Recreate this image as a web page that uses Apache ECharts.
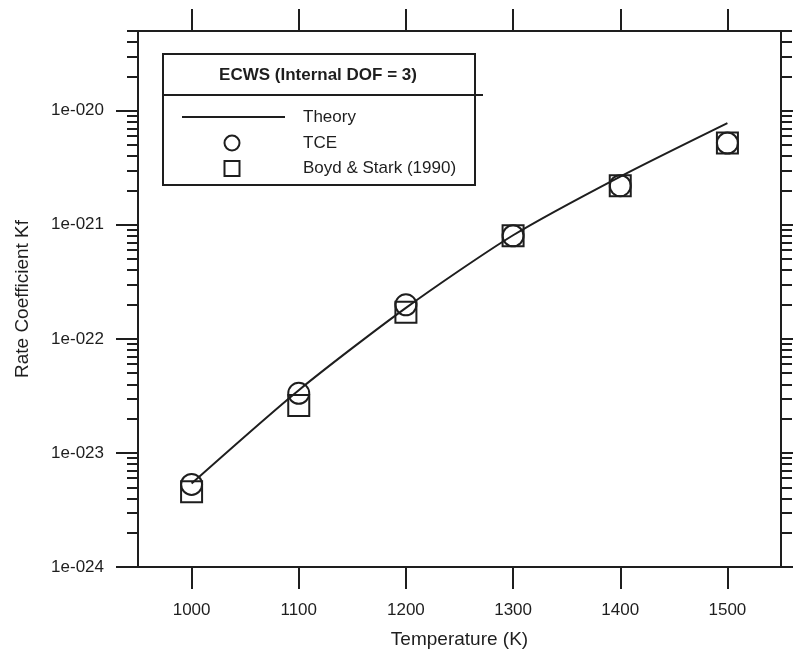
<!DOCTYPE html>
<html>
<head>
<meta charset="utf-8">
<script src="https://cdn.jsdelivr.net/npm/echarts@6/dist/echarts.min.js"></script>
<style>
html,body{margin:0;padding:0;background:#fff;}
#chart{width:793px;height:649px;}
</style>
</head>
<body>
<div id="chart"></div>
<script>
// ---- data ----
const temperatures = [1000, 1100, 1200, 1300, 1400, 1500];
const theoryValues = [5.4e-24, 3.55e-23, 1.87e-22, 8.1e-22, 2.65e-21, 7.8e-21];
const tceValues    = [5.3e-24, 3.33e-23, 1.99e-22, 8.0e-22, 2.2e-21, 5.2e-21];
const boydValues   = [4.57e-24, 2.6e-23, 1.71e-22, 8.0e-22, 2.2e-21, 5.2e-21];
const xTicks = [1000, 1100, 1200, 1300, 1400, 1500];
const yMajorTicks = [1e-24, 1e-23, 1e-22, 1e-21, 1e-20];
const yMinorTicks = [];
[-24, -23, -22, -21, -20].forEach(function (e) {
  for (let m = 2; m <= 9; m++) {
    const v = m * Math.pow(10, e);
    if (v <= 5e-20 * 1.0001) yMinorTicks.push(v);
  }
});
const legendTitle = 'ECWS (Internal DOF = 3)';
const seriesNames = ['Theory', 'TCE', 'Boyd & Stark (1990)'];

const X_MIN = 950, X_MAX = 1550, Y_MIN = 1e-24, Y_MAX = 5e-20;
const INK = '#1e1e1e';
const FONT = '"Liberation Sans", Arial, Helvetica, sans-serif';

function fmtExp(v) {
  const e = Math.round(Math.log10(v));
  const s = String(Math.abs(e)).padStart(3, '0');
  return '1e' + (e < 0 ? '-' : '+') + s;
}

function pair(xs, ys) { return xs.map(function (x, i) { return [x, ys[i]]; }); }

const baseX = { type: 'value', min: X_MIN, max: X_MAX, splitLine: { show: false } };
const baseY = { type: 'log', logBase: 10, min: Y_MIN, max: Y_MAX, splitLine: { show: false } };

function yAxisDef(pos, ticks, len, showLine, showLabel, name) {
  return Object.assign({}, baseY, {
    position: pos,
    name: name || '',
    nameLocation: 'middle',
    nameGap: 106,
    nameTextStyle: { fontFamily: FONT, fontSize: 19, color: INK },
    axisLine: { show: showLine, onZero: false, lineStyle: { color: INK, width: 2 } },
    axisTick: { show: true, inside: false, length: len, customValues: ticks, lineStyle: { color: INK, width: 2 } },
    axisLabel: { show: showLabel, customValues: ticks, margin: 34, fontFamily: FONT, fontSize: 17, color: INK,
                 formatter: function (v) { return fmtExp(v); } },
    minorTick: { show: false }
  });
}

function xAxisDef(pos, showLabel, name) {
  return Object.assign({}, baseX, {
    position: pos,
    name: name || '',
    nameLocation: 'middle',
    nameGap: 63,
    nameTextStyle: { fontFamily: FONT, fontSize: 19, color: INK },
    axisLine: { show: true, onZero: false, lineStyle: { color: INK, width: 2 } },
    axisTick: { show: true, inside: false, length: 22, customValues: xTicks, lineStyle: { color: INK, width: 2 } },
    axisLabel: { show: showLabel, customValues: xTicks, margin: 35, fontFamily: FONT, fontSize: 17, color: INK,
                 formatter: function (v) { return String(v); } }
  });
}

const chart = echarts.init(document.getElementById('chart'), null, { renderer: 'canvas' });

const option = {
  backgroundColor: '#fff',
  animation: false,
  grid: { left: 138, right: 12, top: 31, bottom: 82, containLabel: false, outerBoundsMode: 'none' },
  xAxis: [
    xAxisDef('bottom', true, 'Temperature (K)'),
    xAxisDef('top', false)
  ],
  yAxis: [
    yAxisDef('left', yMajorTicks, 22, true, true, 'Rate Coefficient Kf'),
    yAxisDef('left', yMinorTicks, 11, false, false),
    yAxisDef('right', yMajorTicks, 22, true, false),
    yAxisDef('right', yMinorTicks, 11, false, false)
  ],
  series: [
    {
      name: seriesNames[0], type: 'line', xAxisIndex: 0, yAxisIndex: 0,
      data: pair(temperatures, theoryValues),
      showSymbol: false, symbol: 'none', smooth: 0.25,
      lineStyle: { color: INK, width: 2 }, z: 2
    },
    {
      name: seriesNames[1], type: 'scatter', xAxisIndex: 0, yAxisIndex: 0,
      data: pair(temperatures, tceValues),
      symbol: 'circle', symbolSize: 21,
      itemStyle: { color: 'rgba(0,0,0,0)', borderColor: INK, borderWidth: 2, opacity: 1 }, z: 3
    },
    {
      name: seriesNames[2], type: 'scatter', xAxisIndex: 0, yAxisIndex: 0,
      data: pair(temperatures, boydValues),
      symbol: 'rect', symbolSize: 21,
      itemStyle: { color: 'rgba(0,0,0,0)', borderColor: INK, borderWidth: 2, opacity: 1 }, z: 3
    }
  ],
  graphic: [
    { type: 'rect', shape: { x: 163, y: 54, width: 312, height: 131 },
      style: { fill: '#fff', stroke: INK, lineWidth: 2 }, z: 10 },
    { type: 'line', shape: { x1: 163, y1: 95, x2: 483, y2: 95 },
      style: { stroke: INK, lineWidth: 2 }, z: 11 },
    { type: 'text', x: 318, y: 75, z: 11,
      style: { text: legendTitle, font: 'bold 17px ' + FONT, fill: INK, align: 'center', verticalAlign: 'middle' } },
    { type: 'line', shape: { x1: 182, y1: 117, x2: 285, y2: 117 },
      style: { stroke: INK, lineWidth: 2 }, z: 11 },
    { type: 'text', x: 303, y: 117, z: 11,
      style: { text: seriesNames[0], font: '17px ' + FONT, fill: INK, align: 'left', verticalAlign: 'middle' } },
    { type: 'circle', shape: { cx: 232, cy: 143, r: 7.5 },
      style: { fill: 'none', stroke: INK, lineWidth: 2 }, z: 11 },
    { type: 'text', x: 303, y: 143, z: 11,
      style: { text: seriesNames[1], font: '17px ' + FONT, fill: INK, align: 'left', verticalAlign: 'middle' } },
    { type: 'rect', shape: { x: 224.5, y: 161, width: 15, height: 15 },
      style: { fill: 'none', stroke: INK, lineWidth: 2 }, z: 11 },
    { type: 'text', x: 303, y: 168, z: 11,
      style: { text: seriesNames[2], font: '17px ' + FONT, fill: INK, align: 'left', verticalAlign: 'middle' } }
  ]
};

chart.setOption(option);
</script>
</body>
</html>
